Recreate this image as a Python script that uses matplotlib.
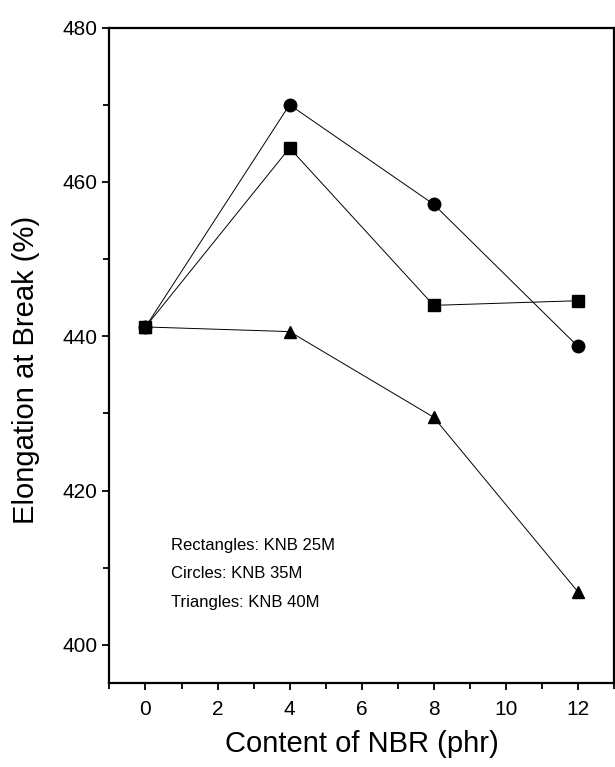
import matplotlib
matplotlib.use('Agg')
import matplotlib.pyplot as plt
from matplotlib.ticker import MultipleLocator

plt.rcParams['font.family'] = ['Liberation Sans', 'DejaVu Sans']

# content of NBR (phr)
nbr = [0, 4, 8, 12]
# elongation at break (%)
knb25 = [441.2, 464.4, 444.0, 444.6]   # squares
knb35 = [441.2, 470.0, 457.1, 438.7]   # circles
knb40 = [441.2, 440.6, 429.5, 406.9]   # triangles

notes = ['Rectangles: KNB 25M', 'Circles: KNB 35M', 'Triangles: KNB 40M']

fig = plt.figure(figsize=(6.15, 7.67), dpi=100)
ax = fig.add_axes([0.178, 0.109, 0.82, 0.855])

ax.plot(nbr, knb25, '-s', color='black', lw=0.7, ms=8)
ax.plot(nbr, knb35, '-o', color='black', lw=0.7, ms=9)
ax.plot(nbr, knb40, '-^', color='black', lw=0.7, ms=9)

ax.set_xlim(-1, 13)
ax.set_ylim(395, 480)
ax.xaxis.set_major_locator(MultipleLocator(2))
ax.xaxis.set_minor_locator(MultipleLocator(1))
ax.yaxis.set_major_locator(MultipleLocator(20))
ax.yaxis.set_minor_locator(MultipleLocator(10))
ax.tick_params(which='both', direction='out', width=1.3, labelsize=15)
ax.tick_params(which='major', length=5)
ax.tick_params(which='minor', length=4)
ax.tick_params(axis='x', pad=7)
for s in ax.spines.values():
    s.set_linewidth(1.6)

ax.set_xlabel('Content of NBR (phr)', fontsize=21, labelpad=8)
ax.set_ylabel('Elongation at Break (%)', fontsize=21)
ax.yaxis.set_label_coords(-0.137, 0.478)

for i, t in enumerate(notes):
    ax.text(0.122, 0.211 - i * 0.0435, t, transform=ax.transAxes, fontsize=12,
            va='center')

fig.savefig('out.png', dpi=100)
